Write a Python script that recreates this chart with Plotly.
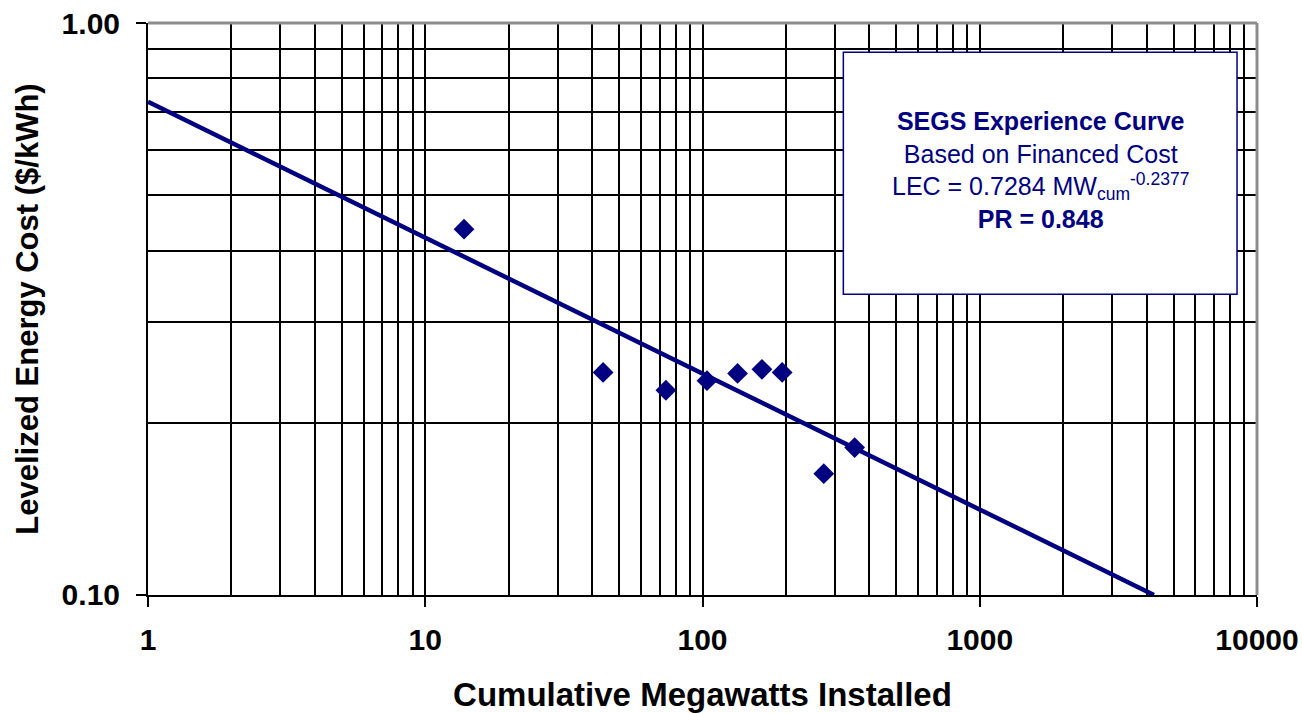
import plotly.graph_objects as go

# Data
mw_cum = [13.8, 43.8, 73.8, 103.8, 133.8, 163.8, 193.8, 273.8, 353.8]
lec = [0.436, 0.245, 0.228, 0.237, 0.244, 0.248, 0.245, 0.163, 0.181]

trend_x = [1, 4250]
trend_y = [0.7284, 0.1]

x_ticks = [1, 10, 100, 1000, 10000]
x_ticktext = ["1", "10", "100", "1000", "10000"]
y_ticks = [0.1, 1.0]
y_ticktext = ["0.10", "1.00"]

x_minor = [m * 10 ** d for d in range(4) for m in range(2, 10)]
y_minor = [m / 10 for m in range(2, 10)]

NAVY = "#000080"
FONT = "Arial, Liberation Sans, sans-serif"

fig = go.Figure()
fig.add_trace(go.Scatter(x=trend_x, y=trend_y, mode="lines",
                         line=dict(color=NAVY, width=4.5), hoverinfo="skip"))
fig.add_trace(go.Scatter(x=mw_cum, y=lec, mode="markers",
                         marker=dict(symbol="diamond", size=16, color=NAVY)))

fig.update_layout(
    width=1302, height=713,
    margin=dict(l=148, r=45, t=23, b=118, autoexpand=False),
    paper_bgcolor="white", plot_bgcolor="white",
    showlegend=False,
    font=dict(family=FONT, color="black"),
    xaxis=dict(
        type="log", range=[-0.00001, 4.00001], automargin=False,
        tickvals=x_ticks, ticktext=x_ticktext,
        tickfont=dict(size=30, family=FONT, weight="bold"),
        ticks="outside", ticklen=10, tickwidth=2, tickcolor="black",
        ticklabelstandoff=7,
        showgrid=True, gridcolor="black", gridwidth=2,
        showline=True, linecolor="black", linewidth=2,
        zeroline=False,
        minor=dict(tickvals=x_minor, showgrid=True, gridcolor="black",
                   gridwidth=2, ticks=""),
        title=dict(text="<b>Cumulative Megawatts Installed</b>",
                   font=dict(size=33, family=FONT), standoff=33),
    ),
    yaxis=dict(
        type="log", range=[-1.00001, 0.00001], automargin=False,
        tickvals=y_ticks, ticktext=y_ticktext,
        tickfont=dict(size=30, family=FONT, weight="bold"),
        ticks="outside", ticklen=10, tickwidth=2, tickcolor="black",
        ticklabelstandoff=10,
        showgrid=True, gridcolor="black", gridwidth=2,
        showline=True, linecolor="black", linewidth=2,
        zeroline=False,
        minor=dict(tickvals=y_minor, showgrid=True, gridcolor="black",
                   gridwidth=2, ticks=""),
        title=dict(text="<b>Levelized Energy Cost ($/kWh)</b>",
                   font=dict(size=31, family=FONT), standoff=14),
    ),
)

# gray top and right border
fig.add_shape(type="line", xref="paper", yref="paper", x0=0, x1=1, y0=1, y1=1,
              line=dict(color="#8c8c8c", width=3), layer="above")
fig.add_shape(type="line", xref="paper", yref="paper", x0=1, x1=1, y0=0, y1=1,
              line=dict(color="#8c8c8c", width=3), layer="above")

# text box
fig.add_shape(type="rect", xref="paper", yref="paper",
              x0=0.627, x1=0.982, y0=0.526, y1=0.949,
              fillcolor="white", line=dict(color=NAVY, width=1.5), layer="above")
fig.add_annotation(
    xref="paper", yref="paper", x=0.8045, y=0.743, showarrow=False,
    xanchor="center", yanchor="middle", align="center",
    text=("<b>SEGS Experience Curve</b><br>Based on Financed Cost<br>"
          "LEC = 0.7284 MW<sub>cum</sub><sup>-0.2377</sup><br><b>PR = 0.848</b>"),
    font=dict(size=25, color=NAVY, family=FONT),
)

fig.write_html(
    "out.html",
    config={"displayModeBar": False},
    post_script="document.body.style.margin='0';document.body.style.overflow='hidden';",
)
